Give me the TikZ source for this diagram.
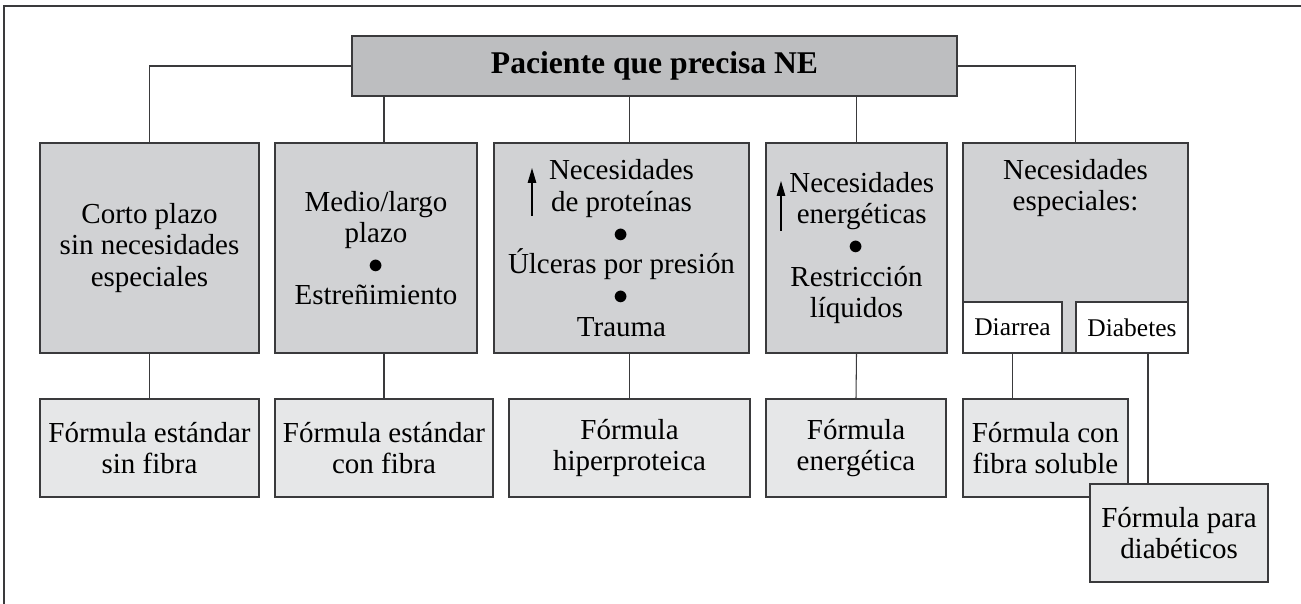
\documentclass[tikz,border=0pt]{standalone}
\usepackage{fontspec}
\setmainfont{Liberation Serif}
\usepackage{tikz}
\usetikzlibrary{arrows.meta}

\definecolor{borde}{HTML}{3A3A3C}
\definecolor{grisoscuro}{HTML}{BDBEC0}
\definecolor{grismedio}{HTML}{D1D2D4}
\definecolor{grisclaro}{HTML}{E6E7E8}

\newcommand{\punto}{\smash{$\bullet$}}

\begin{document}
\begin{tikzpicture}[x = 0.02cm, y = -0.02cm,
        caja/.style = {draw = borde, line width = 0.8pt, align = center, inner sep = 2pt,
                       font = \fontsize{16.5}{17.8}\selectfont},
        titulo/.style = {caja, fill = grisoscuro, font = \fontsize{18}{20}\selectfont\bfseries},
        situacion/.style = {caja, fill = grismedio, minimum height = 4.2cm},
        formula/.style = {caja, fill = grisclaro, minimum height = 1.96cm},
        enfermedad/.style = {caja, fill = white, minimum height = 1.02cm,
                             font = \fontsize{14.5}{16}\selectfont},
        enlace/.style = {draw = borde, line width = 0.6pt},
        subida/.style = {draw = black, line width = 0.7pt, -{Triangle[length = 3mm, width = 1.7mm]}}]
            \useasboundingbox (0, 0) rectangle (1301, 604);
            \draw[enlace] (4, 604) -- (4, 6) -- (1301, 6);

            \node[titulo, minimum width = 12.1cm, minimum height = 1.2cm] (T) at (654.5, 66) {Paciente que precisa NE};

            \node[situacion, minimum width = 4.38cm] (S1) at (149.5, 248) {Corto plazo\\sin necesidades\\especiales};
            \node[situacion, minimum width = 4.04cm] (S2) at (376, 248) {Medio/largo\\plazo\\\punto\\Estreñimiento};
            \node[situacion, minimum width = 5.1cm] (S3) at (621.5, 248) {Necesidades\\de proteínas\\\punto\\Úlceras por presión\\\punto\\Trauma};
            \node[situacion, minimum width = 3.62cm] (S4) at (856.5, 248) {\hspace{6pt}Necesidades\\\hspace{6pt}energéticas\\\punto\\Restricción\\líquidos};
            \node[situacion, minimum width = 4.5cm,
                  label = {[below, yshift = -6pt, align = center, font = \fontsize{16.5}{17.8}\selectfont]north:Necesidades\\especiales:}] (S5) at (1075.5, 248) {};

            \node[enfermedad, minimum width = 1.98cm] (D1) at (1012.5, 327.5) {Diarrea};
            \node[enfermedad, minimum width = 2.24cm] (D2) at (1132, 327.5) {Diabetes};

            \node[formula, minimum width = 4.38cm] (F1) at (149.5, 448) {Fórmula estándar\\sin fibra};
            \node[formula, minimum width = 4.36cm] (F2) at (384, 448) {Fórmula estándar\\con fibra};
            \node[formula, minimum width = 4.82cm] (F3) at (629.5, 448) {Fórmula\\hiperproteica};
            \node[formula, minimum width = 3.6cm] (F4) at (856, 448) {Fórmula\\energética};
            \node[formula, minimum width = 3.3cm] (F5) at (1045.5, 448) {Fórmula con\\fibra soluble};
            \node[formula, minimum width = 3.56cm] (F6) at (1179, 533) {Fórmula para\\diabéticos};

            \coordinate (E) at ([xshift = 0.32cm]D2.south);

            \draw[enlace] (T.west) -| (S1.north);
            \draw[enlace] (T.south -| F2.north) -- (S2.north -| F2.north);
            \draw[enlace] (T.south -| F3.north) -- (S3.north -| F3.north);
            \draw[enlace] (T.south -| S4.north) -- (S4.north);
            \draw[enlace] (T.east) -| (S5.north);
            \draw[enlace] (S1.south) -- (F1.north);
            \draw[enlace] (S2.south -| F2.north) -- (F2.north);
            \draw[enlace] (S3.south -| F3.north) -- (F3.north);
            \draw[enlace] (S4.south) -- (F4.north);
            \draw[enlace] (D1.south) -- (D1.south |- F5.north);
            \draw[enlace] (E) -- (E |- F6.north);

            \draw[subida] (532, 216) -- (532, 168);
            \draw[subida] (781, 231) -- (781, 181);
        \end{tikzpicture}
\end{document}
